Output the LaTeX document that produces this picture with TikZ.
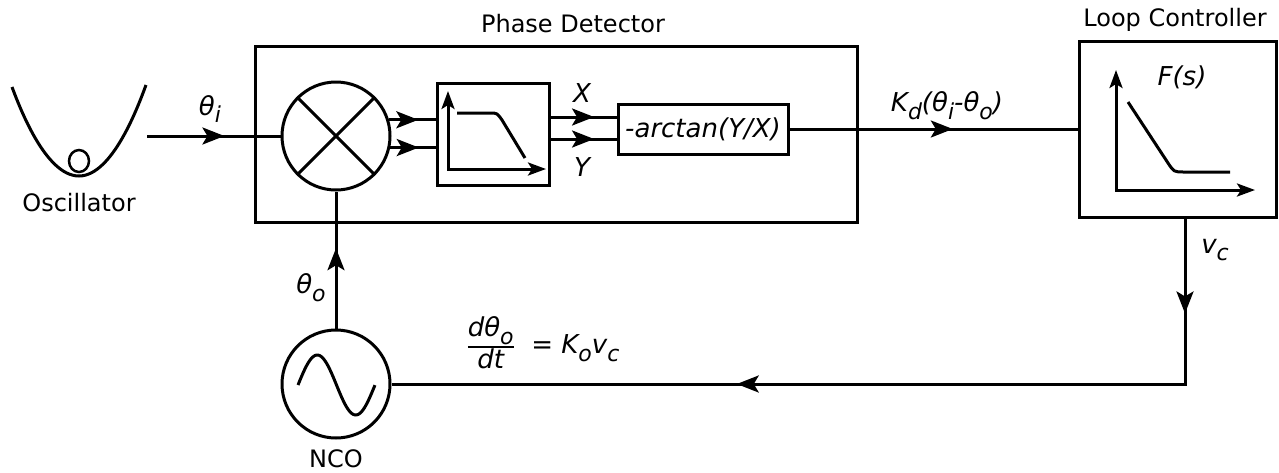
\documentclass[tikz,border=0pt]{standalone}
\usepackage{fontspec}
\setmainfont{DejaVu Sans}
\usetikzlibrary{arrows.meta,decorations.markings}
\newcommand\mainfs{\fontsize{24}{28}\selectfont}
\newcommand\itfs{\fontsize{26}{30}\selectfont\itshape}
\newcommand\sbs[1]{\raisebox{-0.3em}{\fontsize{22}{23}\selectfont #1}}
\tikzset{
  ln/.style={line width=3pt},
  blk/.style={draw, rectangle, line width=3pt, inner sep=0pt},
  rnd/.style={draw, circle, line width=3pt, inner sep=0pt, minimum size=108pt},
  txt/.style={font=\mainfs, inner sep=0pt},
  itx/.style={font=\itfs, inner sep=0pt},
  midarrow/.style={postaction={decorate},
    decoration={markings, mark=at position #1 with {\arrow{Stealth[length=22pt,width=17pt,inset=5pt]}}}},
  axis/.style={line width=3pt, {Stealth[length=18pt,width=13pt,inset=4pt]}-{Stealth[length=18pt,width=13pt,inset=4pt]}}
}
\begin{document}
\begin{tikzpicture}[x=1pt,y=-1pt]
\useasboundingbox (0,0) rectangle (1279,472);

% Oscillator
\draw[ln] (12,87) parabola bend (79,176) (146,85);
\draw[line width=2.5pt] (79,161) ellipse (10 and 11);
\node[txt] (osclbl) at (79,203) {Oscillator};
\coordinate (oin) at (147,136);

% Phase detector
\node[blk, minimum width=602pt, minimum height=176pt] (pd) at (556,134) {};
\node[txt] (pdlbl) at (573,24) {Phase Detector};
\node[rnd] (mix) at (336,136) {};
\draw[ln] (mix.45) -- (mix.225);
\draw[ln] (mix.135) -- (mix.-45);

\node[blk, minimum width=112pt, minimum height=102pt] (lpf) at (493,134) {};
\draw[axis] (448,91) -- (448,169) -- (546,169);
\draw[ln] (457,113) -- (490,113) .. controls (497,113) .. (502,120) -- (525,158);

\node[blk, minimum width=170pt, minimum height=50pt, font=\itfs] (atan) at (703,129) {-arctan(Y/X)};

% Loop controller
\node[blk, minimum width=197pt, minimum height=176pt] (lc) at (1177.5,129) {};
\node[txt] (lclbl) at (1175,20) {Loop Controller};
\node[itx] (fs) at (1182,77) {F(s)};
\draw[axis] (1116,70) -- (1116,190) -- (1255,190);
\draw[ln] (1128,102) -- (1168,163) .. controls (1174,172) .. (1184,172) -- (1230,172);

% NCO
\node[rnd] (nco) at (336,384) {};
\draw[ln] plot[domain=0:1, samples=60] ({298+77*\x},{385-30*sin(360*\x)});
\node[txt] (ncolbl) at (336,459) {NCO};

% connectors
\draw[ln, midarrow=0.58] (oin) -- (mix.west);
\node[itx] (thi) at (210,109) {θ\sbs{i}};

\draw[ln, midarrow=0.63] (mix.17) -- (mix.17 -| lpf.west);
\draw[ln, midarrow=0.63] (mix.-12) -- (mix.-12 -| lpf.west);

\coordinate (xo) at ([yshift=17pt]lpf.east);
\coordinate (yo) at ([yshift=-5pt]lpf.east);
\draw[ln, midarrow=0.66] (xo) -- (xo -| atan.west);
\draw[ln, midarrow=0.66] (yo) -- (yo -| atan.west);
\node[itx] (xl) at (582,93) {X};
\node[itx] (yl) at (582,167) {Y};

\draw[ln, midarrow=0.567] (atan.east) -- (lc.west);
\node[itx] (kd) at (947,106) {K\sbs{d}(θ\sbs{i}-θ\sbs{o})};

\coordinate (corner) at (1185,384);
\draw[ln, postaction={decorate}, decoration={markings,
   mark=at position 0.099 with {\arrow{Stealth[length=22pt,width=17pt,inset=5pt]}},
   mark=at position 0.64 with {\arrow{Stealth[length=22pt,width=17pt,inset=5pt]}}}]
   (lc.south -| corner) -- (corner) -- (nco.east);
\node[itx] (vc) at (1215,250) {v\sbs{c}};

\draw[ln, midarrow=0.586] (nco.north) -- (mix.south);
\node[itx] (tho) at (311,288) {θ\sbs{o}};

\node[font=\itfs, inner sep=0pt] (eq) at (543,343)
  {${\hbox{dθ\sbs{o}}\above1.5pt\hbox{dt}}$\hbox{\ \ =\ K\sbs{o}v\sbs{c}}};
\end{tikzpicture}
\end{document}
